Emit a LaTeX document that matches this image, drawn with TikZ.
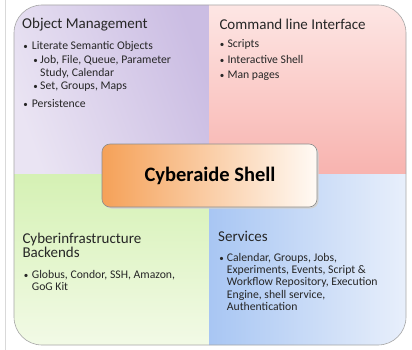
\documentclass[tikz,border=0pt]{standalone}
\usepackage{fontspec}
\setmainfont{Carlito}
\definecolor{tlA}{HTML}{EAE4F3}
\definecolor{tlB}{HTML}{CBBDE3}
\definecolor{trA}{HTML}{FDE6E4}
\definecolor{trB}{HTML}{F8B3AF}
\definecolor{blA}{HTML}{D5F1B4}
\definecolor{blB}{HTML}{F2FAE6}
\definecolor{brA}{HTML}{A8C6F3}
\definecolor{brB}{HTML}{E8EFFB}
\definecolor{cA}{HTML}{F5A158}
\definecolor{cB}{HTML}{FFFAF5}
\newcommand\mlines[1]{\vtop{\baselineskip=12.4pt #1}}
\begin{document}
\begin{tikzpicture}[x=1pt,y=-1pt,
  title/.style={font=\fontsize{15}{16}\selectfont, anchor=base west, inner sep=0, text=black!85},
  itemtxt/.style={font=\fontsize{11.7}{12}\selectfont, anchor=base west, inner sep=0, text=black!85},
  bul/.style={font=\fontsize{9}{12}\selectfont, anchor=base, inner sep=0, text=black!85},
  outline/.style={draw=black!35, line width=0.6pt}]
\useasboundingbox (0,0) rectangle (412,350);
\fill[white] (0,0) rectangle (412,350);
\draw[black!15, line width=0.6pt] (5,0) -- (5,350);
% quadrants
\shade[left color=tlA, right color=tlB, shading angle=110]
  (14,174) -- (14,33) arc[start angle=180, end angle=270, radius=28] -- (209,5) -- (209,174) -- cycle;
\shade[top color=trA, bottom color=trB]
  (209,5) -- (378,5) arc[start angle=270, end angle=360, radius=28] -- (406,174) -- (209,174) -- cycle;
\shade[top color=blA, bottom color=blB]
  (14,174) -- (209,174) -- (209,345) -- (42,345) arc[start angle=90, end angle=180, radius=28] -- cycle;
\shade[left color=brA, right color=brB]
  (209,174) -- (406,174) -- (406,317) arc[start angle=0, end angle=90, radius=28] -- (209,345) -- cycle;
\draw[outline]
  (14,33) arc[start angle=180, end angle=270, radius=28] -- (378,5) arc[start angle=270, end angle=360, radius=28]
  -- (406,317) arc[start angle=0, end angle=90, radius=28] -- (42,345) arc[start angle=90, end angle=180, radius=28] -- cycle;
% center box
\fill[black!18, rounded corners=8pt] (103.5,145.5) rectangle (318.5,208.5);
\shade[left color=cA, right color=cB, rounded corners=8pt, draw=black!45, line width=0.6pt]
  (102,144) rectangle (317,207);
\node[font=\fontsize{20.5}{23}\selectfont\bfseries, inner sep=0] (center) at (210,176) {Cyberaide Shell};
% top-left
\node[title] (tltitle) at (22,29) {Object Management};
\node[bul] (tlb1) at (25.7,49.5) {\textbullet};
\node[itemtxt] (tli1) at (31.7,49.5) {Literate Semantic Objects};
\node[bul] (tlb2) at (35.5,64) {\textbullet};
\node[itemtxt] (tli2) at (40,64) {\mlines{\hbox{Job, File, Queue, Parameter}\hbox{Study, Calendar}}};
\node[bul] (tlb3) at (35.5,89.5) {\textbullet};
\node[itemtxt] (tli3) at (40,89.5) {Set, Groups, Maps};
\node[bul] (tlb4) at (25.7,107.5) {\textbullet};
\node[itemtxt] (tli4) at (31.7,107.5) {Persistence};
% top-right
\node[title] (trtitle) at (219.3,29.3) {Command line Interface};
\node[bul] (trb1) at (222,47.7) {\textbullet};
\node[itemtxt] (tri1) at (227.3,47.7) {Scripts};
\node[bul] (trb2) at (222,63.2) {\textbullet};
\node[itemtxt] (tri2) at (227.3,63.2) {Interactive Shell};
\node[bul] (trb3) at (222,78.3) {\textbullet};
\node[itemtxt] (tri3) at (227.3,78.3) {Man pages};
% bottom-left
\node[title] (bltitle) at (22.3,243.3) {\vtop{\baselineskip=14.6pt\hbox{Cyberinfrastructure}\hbox{Backends}}};
\node[bul] (blb1) at (26,278.3) {\textbullet};
\node[itemtxt] (bli1) at (31.7,278.3) {\mlines{\hbox{Globus, Condor, SSH, Amazon,}\hbox{GoG Kit}}};
% bottom-right
\node[title] (brtitle) at (218,241) {Services};
\node[bul] (brb1) at (221.7,261) {\textbullet};
\node[itemtxt] (bri1) at (226.7,261) {\mlines{\hbox{Calendar, Groups, Jobs,}\hbox{Experiments, Events, Script \&}\hbox{Workflow Repository, Execution}\hbox{Engine, shell service,}\hbox{Authentication}}};
\end{tikzpicture}
\end{document}
